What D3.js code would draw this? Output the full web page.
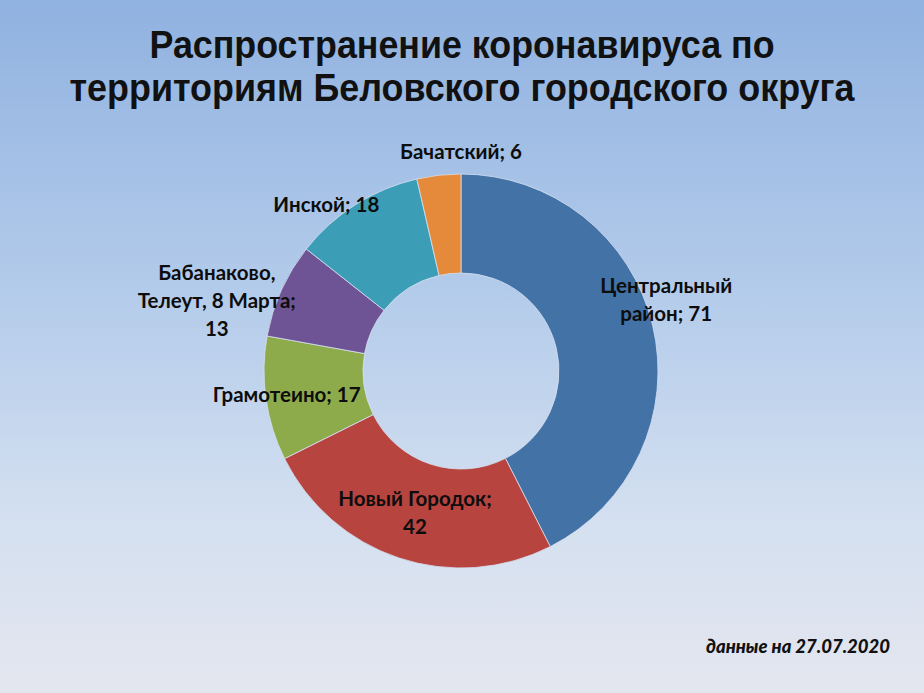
<!DOCTYPE html>
<html>
<head>
<meta charset="utf-8">
<script src="https://cdn.jsdelivr.net/npm/d3@7"></script>
<style>
  html, body { margin: 0; padding: 0; overflow: hidden; }
  svg { display: block; }
</style>
</head>
<body>
<script>
const w = 924;
const h = 693;

// data
const territories = ["Центральный район", "Новый Городок", "Грамотеино", "Бабанаково, Телеут, 8 Марта", "Инской", "Бачатский"];
const cases = [71, 42, 17, 13, 18, 6];
const labelLines = [
  ["Центральный", "район; 71"],
  ["Новый Городок;", "42"],
  ["Грамотеино; 17"],
  ["Бабанаково,", "Телеут, 8 Марта;", "13"],
  ["Инской; 18"],
  ["Бачатский; 6"]
];
const titleLines = ["Распространение коронавируса по", "территориям Беловского городского округа"];
const note = "данные на 27.07.2020";

const colors = ["#4272a6", "#b7443f", "#8dab4b", "#6e5494", "#3c9eb6", "#e48a3a"];
// label placement: angle (deg from top, clockwise) and radius from centre
const labelPos = [[71, 217], [198, 149], [262, 176], [286, 254], [321, 214], [0, 219]];

const cx = 461, cy = 371;
const outerR = 197, innerR = 98;

const svg = d3.select("body")
  .append("svg")
  .attr("width", w)
  .attr("height", h);

// background gradient
const grad = svg.append("defs")
  .append("linearGradient")
  .attr("id", "bg")
  .attr("x1", 0).attr("y1", 0).attr("x2", 0).attr("y2", 1);
grad.append("stop").attr("offset", "0%").attr("stop-color", "#90b2e0");
grad.append("stop").attr("offset", "45%").attr("stop-color", "#b6cdeb");
grad.append("stop").attr("offset", "75%").attr("stop-color", "#d4e0f0");
grad.append("stop").attr("offset", "100%").attr("stop-color", "#e4e6ef");

svg.append("rect")
  .attr("width", w)
  .attr("height", h)
  .attr("fill", "url(#bg)");

// title
const titleWidths = [625, 785];
svg.selectAll("text.title")
  .data(titleLines)
  .enter()
  .append("text")
  .attr("class", "title")
  .attr("x", w / 2)
  .attr("y", (d, i) => 58 + i * 43)
  .attr("text-anchor", "middle")
  .attr("textLength", (d, i) => titleWidths[i])
  .attr("lengthAdjust", "spacingAndGlyphs")
  .style("font-family", "'Liberation Sans', Arial, sans-serif")
  .style("font-weight", "bold")
  .style("font-size", "38px")
  .style("fill", "#111")
  .text(d => d);

// donut
const pie = d3.pie().sort(null).value(d => d);
const arc = d3.arc().innerRadius(innerR).outerRadius(outerR);
const arcs = pie(cases);

const g = svg.append("g")
  .attr("transform", "translate(" + cx + "," + cy + ")");

g.selectAll("path")
  .data(arcs)
  .enter()
  .append("path")
  .attr("d", arc)
  .attr("fill", (d, i) => colors[i])
  .style("stroke", "#d5dff0")
  .style("stroke-width", 0.8);

// labels
const lineH = 28;
const labels = g.selectAll("text.lbl")
  .data(arcs)
  .enter()
  .append("text")
  .attr("class", "lbl")
  .attr("text-anchor", "middle")
  .style("font-family", "Lato, 'Open Sans', sans-serif")
  .style("font-weight", "bold")
  .style("font-size", "20.5px")
  .style("fill", "#0d0d0d")
  .attr("transform", (d, i) => {
    const a = labelPos[i][0] * Math.PI / 180;
    const r = labelPos[i][1];
    return "translate(" + (r * Math.sin(a)) + "," + (-r * Math.cos(a)) + ")";
  });

labels.each(function(d, i) {
  const lines = labelLines[i];
  const t = d3.select(this);
  lines.forEach((line, j) => {
    t.append("tspan")
      .attr("x", 0)
      .attr("y", 7 - (lines.length - 1) * lineH / 2 + j * lineH)
      .text(line);
  });
});

// footnote
svg.append("text")
  .attr("x", 890)
  .attr("y", 653)
  .attr("text-anchor", "end")
  .style("font-family", "Lato, 'Open Sans', sans-serif")
  .style("font-weight", "900")
  .style("font-style", "italic")
  .style("font-size", "18.5px")
  .style("fill", "#111")
  .text(note);
</script>
</body>
</html>
